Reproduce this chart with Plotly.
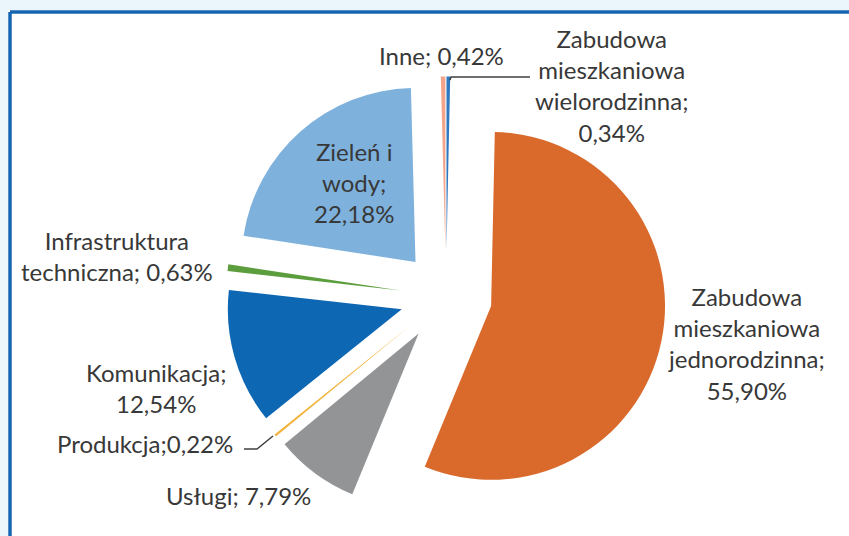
import plotly.graph_objects as go

# ---- data ----
categories = [
    "Zabudowa mieszkaniowa wielorodzinna",
    "Zabudowa mieszkaniowa jednorodzinna",
    "Usługi",
    "Produkcja",
    "Komunikacja",
    "Infrastruktura techniczna",
    "Zieleń i wody",
    "Inne",
]
values = [0.34, 55.90, 7.79, 0.22, 12.54, 0.63, 22.18, 0.42]
value_labels = ["0,34%", "55,90%", "7,79%", "0,22%", "12,54%", "0,63%", "22,18%", "0,42%"]
colors = ["#2E78C0", "#D96A2C", "#939496", "#F2B33D", "#0E67B3", "#5C9E3E", "#7EB2DD", "#F2A58A"]

W, H = 849, 536

def px(x):
    return x / W

def py(y):
    return 1 - y / H

fig = go.Figure()
fig.add_trace(go.Pie(
    labels=categories,
    values=values,
    sort=False,
    direction="clockwise",
    rotation=0,
    pull=[0.265] * len(values),
    marker=dict(colors=colors, line=dict(width=0)),
    textinfo="none",
    hoverinfo="none",
    showlegend=False,
    domain=dict(x=[px(446 - 220), px(446 + 220)], y=[py(296.5 + 220), py(296.5 - 220)]),
))

# label texts built from data
lab = dict(zip(categories, value_labels))
label_specs = [
    ("Inne; " + lab["Inne"], 441, 55),
    ("Zabudowa<br>mieszkaniowa<br>wielorodzinna;<br>" + lab["Zabudowa mieszkaniowa wielorodzinna"], 611, 86),
    ("Zabudowa<br>mieszkaniowa<br>jednorodzinna;<br>" + lab["Zabudowa mieszkaniowa jednorodzinna"], 746, 343),
    ("Zieleń i<br>wody;<br>" + lab["Zieleń i wody"], 354, 182),
    ("Infrastruktura<br>techniczna; " + lab["Infrastruktura techniczna"], 117, 256),
    ("Komunikacja;<br>" + lab["Komunikacja"], 156, 388),
    ("Produkcja;" + lab["Produkcja"], 145, 443),
    ("Usługi; " + lab["Usługi"], 238, 495),
]
for text, x, y in label_specs:
    fig.add_annotation(
        text=text, x=px(x), y=py(y), xref="paper", yref="paper",
        xanchor="center", yanchor="middle", showarrow=False, align="center",
        font=dict(family="Lato", size=24, color="#383838"),
    )

shapes = [
    # light blue page bands (top and left)
    dict(type="rect", xref="paper", yref="paper", x0=0, x1=1, y0=py(10), y1=1,
         fillcolor="#EAF5FC", line=dict(width=0), layer="below"),
    dict(type="rect", xref="paper", yref="paper", x0=0, x1=px(8), y0=0, y1=1,
         fillcolor="#EAF5FC", line=dict(width=0), layer="below"),
    # frame border (top and left)
    dict(type="line", xref="paper", yref="paper", x0=px(10), x1=1, y0=py(12), y1=py(12),
         line=dict(color="#1565B0", width=3.5)),
    dict(type="line", xref="paper", yref="paper", x0=px(10), x1=px(10), y0=0, y1=py(12),
         line=dict(color="#1565B0", width=3.5)),
    # leader lines
    dict(type="path", xref="paper", yref="paper",
         path=f"M {px(450)} {py(80)} L {px(451)} {py(77)} L {px(530)} {py(77)}",
         line=dict(color="#404040", width=1.5)),
    dict(type="path", xref="paper", yref="paper",
         path=f"M {px(244)} {py(449)} L {px(257)} {py(449)} L {px(273)} {py(436)}",
         line=dict(color="#404040", width=1.5)),
]

fig.update_layout(
    width=W, height=H,
    margin=dict(l=0, r=0, t=0, b=0),
    paper_bgcolor="white",
    plot_bgcolor="white",
    shapes=shapes,
)

fig.write_html(
    "out.html",
    config={"displayModeBar": False},
    post_script="document.body.style.margin='0';document.body.style.padding='0';document.body.style.overflow='hidden';",
)
